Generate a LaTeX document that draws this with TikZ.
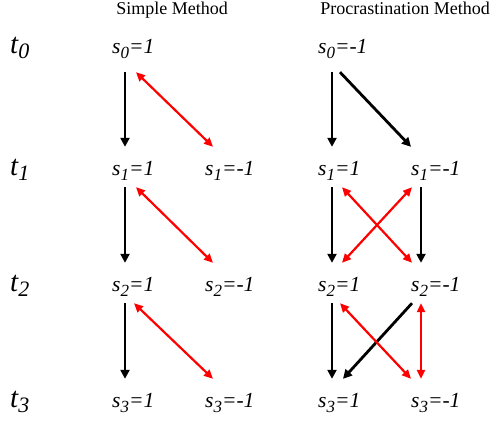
\documentclass[tikz,border=0pt]{standalone}
\usepackage{fontspec}
\setmainfont{Liberation Serif}
\usepackage{tikz}
\usetikzlibrary{arrows.meta}
\newcommand{\lowsub}[1]{\raisebox{-5pt}{\fontsize{17}{17}\selectfont #1}}
\newcommand{\tlowsub}[1]{\raisebox{-5pt}{\fontsize{22}{22}\selectfont #1}}
\begin{document}
\begin{tikzpicture}[
  x=1pt, y=-1pt,
  state/.style={inner sep=0pt, anchor=base west, text height=28pt, text depth=12pt,
               font=\fontsize{21.5}{24}\selectfont\itshape},
  firstrow/.style={text depth=19pt},
  timelbl/.style={inner sep=0pt, anchor=base west, font=\fontsize{29}{32}\selectfont\itshape},
  head/.style={inner sep=0pt, anchor=base, font=\fontsize{18}{20}\selectfont},
  keep/.style={-{Triangle[length=9pt, width=9pt]}, line width=2.8pt, color=black},
  swap/.style={{Triangle[length=9pt, width=8pt]}-{Triangle[length=9pt, width=8pt]},
               line width=2.2pt, color=red}
]
  \useasboundingbox (0,0) rectangle (492,421);

  \node[head] (hs) at (172,14) {Simple Method};
  \node[head] (hp) at (405,14) {Procrastination Method};

  \node[timelbl] (t0) at (10,53) {t\tlowsub{0}};
  \node[timelbl] (t1) at (10,175) {t\tlowsub{1}};
  \node[timelbl] (t2) at (10,291) {t\tlowsub{2}};
  \node[timelbl] (t3) at (10,407) {t\tlowsub{3}};

  \node[state, firstrow] (a0) at (112,53) {s\lowsub{0}=1};
  \node[state] (a1) at (112,175) {s\lowsub{1}=1};
  \node[state] (b1) at (205,175) {s\lowsub{1}=-1};
  \node[state] (a2) at (112,291) {s\lowsub{2}=1};
  \node[state] (b2) at (205,291) {s\lowsub{2}=-1};
  \node[state] (a3) at (112,407) {s\lowsub{3}=1};
  \node[state] (b3) at (205,407) {s\lowsub{3}=-1};

  \node[state, firstrow] (p0) at (318,53) {s\lowsub{0}=-1};
  \node[state] (p1) at (318,175) {s\lowsub{1}=1};
  \node[state] (q1) at (411,175) {s\lowsub{1}=-1};
  \node[state] (p2) at (318,291) {s\lowsub{2}=1};
  \node[state] (q2) at (411,291) {s\lowsub{2}=-1};
  \node[state] (p3) at (318,407) {s\lowsub{3}=1};
  \node[state] (q3) at (411,407) {s\lowsub{3}=-1};

  \draw[keep] ([xshift=13pt]a0.south west) -- ([xshift=13pt]a1.north west);
  \draw[swap] ([xshift=24pt]a0.south west) -- ([xshift=8pt]b1.north west);
  \draw[keep] ([xshift=13pt]a1.south west) -- ([xshift=13pt]a2.north west);
  \draw[swap] ([xshift=24pt]a1.south west) -- ([xshift=8pt]b2.north west);
  \draw[keep] ([xshift=13pt]a2.south west) -- ([xshift=13pt]a3.north west);
  \draw[swap] ([xshift=22pt]a2.south west) -- ([xshift=8pt]b3.north west);

  \draw[keep] ([xshift=14pt]p0.south west) -- ([xshift=14pt]p1.north west);
  \draw[keep] ([xshift=22pt]p0.south west) -- ([xshift=0pt]q1.north west);
  \draw[keep] ([xshift=14pt]p1.south west) -- ([xshift=14pt]p2.north west);
  \draw[keep] ([xshift=10pt]q1.south west) -- ([xshift=10pt]q2.north west);
  \draw[swap] ([xshift=24pt]p1.south west) -- ([xshift=1pt]q2.north west);
  \draw[swap] ([xshift=1pt]q1.south west) -- ([xshift=24pt]p2.north west);
  \draw[keep] ([xshift=14pt]p2.south west) -- ([xshift=14pt]p3.north west);
  \draw[keep] ([xshift=1pt]q2.south west) -- ([xshift=25pt]p3.north west);
  \draw[swap] ([xshift=22pt]p2.south west) -- ([xshift=0pt]q3.north west);
  \draw[swap] ([xshift=10pt]q2.south west) -- ([xshift=10pt]q3.north west);
\end{tikzpicture}
\end{document}
